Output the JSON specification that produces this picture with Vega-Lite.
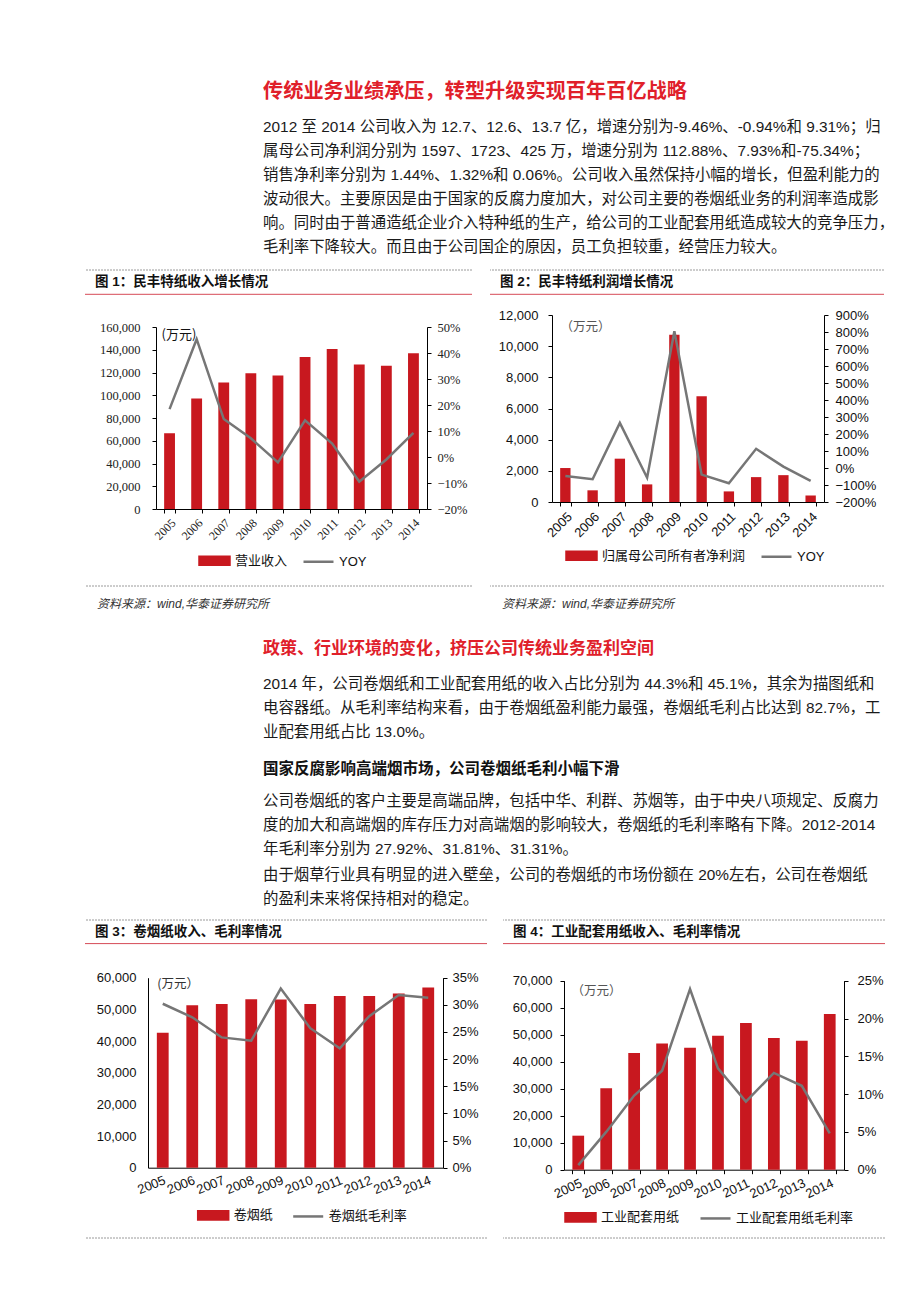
{
"$schema": "https://vega.github.io/schema/vega-lite/v6.json",
"background": "white",
"padding": 0,
"config": {"view": {"stroke": null}, "axis": {"grid": false}},
"spacing": 0,
"bounds": "full",
"resolve": {"scale": {"color": "independent"}, "legend": {"color": "independent"}},
"vconcat": [
 {"width": 1, "height": 81.5, "data": {"values": []}, "mark": "point"},
 {"hconcat": [
   {"width": 263, "height": 37.35, "data": {"values": []}, "mark": "point"},
   {"width": 622, "height": 37.35, "data": {"values": [{"t": "传统业务业绩承压，转型升级实现百年百亿战略"}]},
    "mark": {"type": "text", "align": "left", "baseline": "top", "font": "Noto Sans CJK SC", "fontSize": 20.2, "fontWeight": "bold", "color": "#e0202a"},
    "encoding": {"text": {"field": "t", "type": "nominal"}, "x": {"datum": 0, "type": "quantitative", "scale": {"domain": [0, 1]}, "axis": null}, "y": {"datum": 1, "type": "quantitative", "scale": {"domain": [0, 1]}, "axis": null}}}
 ], "spacing": 0, "bounds": "flush"},
 {"hconcat": [
   {"width": 263, "height": 148.85, "data": {"values": []}, "mark": "point"},
   {"width": 622, "height": 148.85, "data": {"values": [{"t": "2012 至 2014 公司收入为 12.7、12.6、13.7 亿，增速分别为-9.46%、-0.94%和 9.31%；归\n属母公司净利润分别为 1597、1723、425 万，增速分别为 112.88%、7.93%和-75.34%；\n销售净利率分别为 1.44%、1.32%和 0.06%。公司收入虽然保持小幅的增长，但盈利能力的\n波动很大。主要原因是由于国家的反腐力度加大，对公司主要的卷烟纸业务的利润率造成影\n响。同时由于普通造纸企业介入特种纸的生产，给公司的工业配套用纸造成较大的竞争压力，\n毛利率下降较大。而且由于公司国企的原因，员工负担较重，经营压力较大。"}]},
    "mark": {"type": "text", "align": "left", "baseline": "top", "lineBreak": "\n", "lineHeight": 24, "font": "Liberation Sans, Noto Sans CJK SC", "fontSize": 15.4, "color": "#1a1a1a"},
    "encoding": {"text": {"field": "t", "type": "nominal"}, "x": {"datum": 0, "type": "quantitative", "scale": {"domain": [0, 1]}, "axis": null}, "y": {"datum": 1, "type": "quantitative", "scale": {"domain": [0, 1]}, "axis": null}}}
 ], "spacing": 0, "bounds": "flush"},
 {"hconcat": [
   {"width": 85, "height": 24.3, "data": {"values": []}, "mark": "point"},
   {"width": 387, "height": 24.3, "data": {"values": [{"t": "图 1：民丰特纸收入增长情况"}]},
    "layer": [
     {"mark": {"type": "rule", "color": "#9a9a9a", "strokeWidth": 1, "strokeDash": [2, 1]}, "encoding": {"y": {"datum": 1, "type": "quantitative", "scale": {"domain": [0, 1]}, "axis": null}}},
     {"mark": {"type": "rule", "color": "#d64a57", "strokeWidth": 1}, "encoding": {"y": {"datum": 0, "type": "quantitative"}}},
     {"mark": {"type": "text", "align": "left", "baseline": "middle", "dx": 10, "font": "Liberation Sans, Noto Sans CJK SC", "fontSize": 13.5, "fontWeight": "bold", "color": "#111"},
      "encoding": {"text": {"field": "t", "type": "nominal"}, "x": {"datum": 0, "type": "quantitative", "scale": {"domain": [0, 1]}, "axis": null}, "y": {"datum": 0.5, "type": "quantitative"}}}
    ]},
   {"width": 18, "height": 24.3, "data": {"values": []}, "mark": "point"},
   {"width": 394, "height": 24.3, "data": {"values": [{"t": "图 2：民丰特纸利润增长情况"}]},
    "layer": [
     {"mark": {"type": "rule", "color": "#9a9a9a", "strokeWidth": 1, "strokeDash": [2, 1]}, "encoding": {"y": {"datum": 1, "type": "quantitative", "scale": {"domain": [0, 1]}, "axis": null}}},
     {"mark": {"type": "rule", "color": "#d64a57", "strokeWidth": 1}, "encoding": {"y": {"datum": 0, "type": "quantitative"}}},
     {"mark": {"type": "text", "align": "left", "baseline": "middle", "dx": 10, "font": "Liberation Sans, Noto Sans CJK SC", "fontSize": 13.5, "fontWeight": "bold", "color": "#111"},
      "encoding": {"text": {"field": "t", "type": "nominal"}, "x": {"datum": 0, "type": "quantitative", "scale": {"domain": [0, 1]}, "axis": null}, "y": {"datum": 0.5, "type": "quantitative"}}}
    ]}
 ], "spacing": 0, "bounds": "flush"},
 {"hconcat": [
   {"width": 156, "height": 290, "data": {"values": []}, "mark": "point"},
   {"width": 271, "height": 214,
    "data": {"values": [
      {"year": "2005", "rev": 66600, "yoy": 0.184},
      {"year": "2006", "rev": 97200, "yoy": 0.453},
      {"year": "2007", "rev": 111200, "yoy": 0.146},
      {"year": "2008", "rev": 119400, "yoy": 0.072},
      {"year": "2009", "rev": 117400, "yoy": -0.021},
      {"year": "2010", "rev": 133700, "yoy": 0.141},
      {"year": "2011", "rev": 140700, "yoy": 0.052},
      {"year": "2012", "rev": 127000, "yoy": -0.0946},
      {"year": "2013", "rev": 126000, "yoy": -0.0094},
      {"year": "2014", "rev": 137000, "yoy": 0.0931}
    ]},
    "encoding": {"x": {"field": "year", "type": "ordinal", "scale": {"paddingInner": 0.6, "paddingOuter": 0.3},
      "axis": {"title": null, "labelAngle": -45, "tickBand": "extent", "labelFont": "Liberation Serif", "labelFontSize": 12, "labelColor": "#222", "domainColor": "#000", "tickColor": "#000", "tickSize": 4, "labelPadding": 4, "labelOverlap": false}}},
    "layer": [
     {"mark": {"type": "bar"},
      "encoding": {
        "y": {"field": "rev", "type": "quantitative", "scale": {"domain": [0, 160000], "nice": false, "rangeMax": 32},
          "axis": {"orient": "left", "values": [0, 20000, 40000, 60000, 80000, 100000, 120000, 140000, 160000], "format": ",.0f", "title": "(万元)", "titleAngle": 0, "titleX": 5, "titleY": 39, "titleAlign": "left", "titleBaseline": "middle", "titleFont": "Noto Sans CJK SC", "titleFontSize": 13, "titleFontWeight": "normal", "titleColor": "#111", "labelFont": "Liberation Serif", "labelFontSize": 12.5, "labelColor": "#222", "domainColor": "#000", "tickColor": "#000", "tickSize": 4, "labelPadding": 12}},
        "color": {"datum": "营业收入", "type": "nominal", "scale": {"domain": ["营业收入", "YOY"], "range": ["#c8181f", "#767676"]},
          "legend": {"orient": "none", "legendX": 42, "legendY": 249, "direction": "horizontal", "title": null, "padding": 0, "labelFont": "Liberation Sans, Noto Sans CJK SC", "labelFontSize": 13, "labelColor": "#111", "labelOffset": 4, "columnPadding": 10, "symbolSize": 900, "symbolType": "M-1,-0.27H1V0.27H-1Z", "symbolStrokeWidth": 2.5,
            "encode": {"symbols": {"update": {
              "shape": {"signal": "datum.value === 'YOY' ? 'M-1,0H1' : 'M-1,-0.27H1V0.27H-1Z'"},
              "fill": {"signal": "datum.value === 'YOY' ? 'transparent' : '#c8181f'"},
              "stroke": {"signal": "datum.value === 'YOY' ? '#767676' : 'transparent'"}}}}}}}},
     {"mark": {"type": "line", "strokeWidth": 2.5},
      "encoding": {
        "y": {"field": "yoy", "type": "quantitative", "scale": {"domain": [-0.2, 0.5], "nice": false, "zero": false, "rangeMax": 32},
          "axis": {"orient": "right", "values": [-0.2, -0.1, 0, 0.1, 0.2, 0.3, 0.4, 0.5], "format": ".0%", "title": null, "labelFont": "Liberation Serif", "labelFontSize": 12.5, "labelColor": "#222", "domainColor": "#000", "tickColor": "#000", "tickSize": 4, "labelPadding": 6}},
        "color": {"datum": "YOY", "type": "nominal"}}}
    ],
    "resolve": {"scale": {"y": "independent"}}},
   {"width": 125, "height": 1, "data": {"values": []}, "mark": "point"},
   {"width": 272, "height": 207,
    "data": {"values": [
      {"year": "2005", "profit": 2180, "yoy": -0.47},
      {"year": "2006", "profit": 750, "yoy": -0.66},
      {"year": "2007", "profit": 2780, "yoy": 2.65},
      {"year": "2008", "profit": 1130, "yoy": -0.57},
      {"year": "2009", "profit": 10740, "yoy": 8.05},
      {"year": "2010", "profit": 6780, "yoy": -0.39},
      {"year": "2011", "profit": 680, "yoy": -0.9},
      {"year": "2012", "profit": 1597, "yoy": 1.1288},
      {"year": "2013", "profit": 1723, "yoy": 0.0793},
      {"year": "2014", "profit": 425, "yoy": -0.7534}
    ]},
    "encoding": {"x": {"field": "year", "type": "ordinal", "scale": {"paddingInner": 0.62, "paddingOuter": 0.3},
      "axis": {"title": null, "labelAngle": -45, "tickBand": "extent", "labelFont": "Liberation Sans", "labelFontSize": 13, "labelColor": "#111", "domainColor": "#000", "tickColor": "#000", "tickSize": 4, "labelPadding": 4, "labelOverlap": false}}},
    "layer": [
     {"mark": {"type": "bar"},
      "encoding": {
        "y": {"field": "profit", "type": "quantitative", "scale": {"domain": [0, 12000], "nice": false, "rangeMax": 20},
          "axis": {"orient": "left", "values": [0, 2000, 4000, 6000, 8000, 10000, 12000], "format": ",.0f", "title": "（万元）", "titleAngle": 0, "titleX": 8, "titleY": 31, "titleAlign": "left", "titleBaseline": "middle", "titleFont": "Noto Sans CJK SC", "titleFontSize": 12.5, "titleFontWeight": "normal", "titleColor": "#555", "labelFont": "Liberation Sans", "labelFontSize": 13, "labelColor": "#111", "domainColor": "#000", "tickColor": "#000", "tickSize": 4, "labelPadding": 10}},
        "color": {"datum": "归属母公司所有者净利润", "type": "nominal", "scale": {"domain": ["归属母公司所有者净利润", "YOY"], "range": ["#c8181f", "#767676"]},
          "legend": {"orient": "none", "legendX": 13, "legendY": 244, "direction": "horizontal", "title": null, "padding": 0, "labelFont": "Liberation Sans, Noto Sans CJK SC", "labelFontSize": 13, "labelColor": "#111", "labelOffset": 4, "columnPadding": 10, "symbolSize": 900, "symbolType": "M-1,-0.27H1V0.27H-1Z", "symbolStrokeWidth": 2.5, "labelLimit": 300,
            "encode": {"symbols": {"update": {
              "shape": {"signal": "datum.value === 'YOY' ? 'M-1,0H1' : 'M-1,-0.27H1V0.27H-1Z'"},
              "fill": {"signal": "datum.value === 'YOY' ? 'transparent' : '#c8181f'"},
              "stroke": {"signal": "datum.value === 'YOY' ? '#767676' : 'transparent'"}}}}}}}},
     {"mark": {"type": "line", "strokeWidth": 2.5},
      "encoding": {
        "y": {"field": "yoy", "type": "quantitative", "scale": {"domain": [-2, 9], "nice": false, "zero": false, "rangeMax": 20},
          "axis": {"orient": "right", "values": [-2, -1, 0, 1, 2, 3, 4, 5, 6, 7, 8, 9], "format": ".0%", "title": null, "labelFont": "Liberation Sans", "labelFontSize": 13, "labelColor": "#111", "domainColor": "#000", "tickColor": "#000", "tickSize": 4, "labelPadding": 7}},
        "color": {"datum": "YOY", "type": "nominal"}}}
    ],
    "resolve": {"scale": {"y": "independent"}}}
 ], "spacing": 0, "bounds": "flush", "resolve": {"scale": {"color": "independent"}, "legend": {"color": "independent"}}},
 {"hconcat": [
   {"width": 85, "height": 35.5, "data": {"values": []}, "mark": "point"},
   {"width": 387, "height": 35.5, "data": {"values": [{"t": "资料来源：wind,华泰证券研究所"}]},
    "layer": [
     {"mark": {"type": "rule", "color": "#9a9a9a", "strokeWidth": 1, "strokeDash": [2, 1]}, "encoding": {"y": {"datum": 1, "type": "quantitative", "scale": {"domain": [0, 1]}, "axis": null}}},
     {"mark": {"type": "text", "align": "left", "baseline": "middle", "dx": 12, "font": "Liberation Sans, Noto Sans CJK SC", "fontSize": 12, "fontStyle": "italic", "color": "#333"},
      "encoding": {"text": {"field": "t", "type": "nominal"}, "x": {"datum": 0, "type": "quantitative", "scale": {"domain": [0, 1]}, "axis": null}, "y": {"datum": 0.5, "type": "quantitative"}}}
    ]},
   {"width": 18, "height": 35.5, "data": {"values": []}, "mark": "point"},
   {"width": 394, "height": 35.5, "data": {"values": [{"t": "资料来源：wind,华泰证券研究所"}]},
    "layer": [
     {"mark": {"type": "rule", "color": "#9a9a9a", "strokeWidth": 1, "strokeDash": [2, 1]}, "encoding": {"y": {"datum": 1, "type": "quantitative", "scale": {"domain": [0, 1]}, "axis": null}}},
     {"mark": {"type": "text", "align": "left", "baseline": "middle", "dx": 12, "font": "Liberation Sans, Noto Sans CJK SC", "fontSize": 12, "fontStyle": "italic", "color": "#333"},
      "encoding": {"text": {"field": "t", "type": "nominal"}, "x": {"datum": 0, "type": "quantitative", "scale": {"domain": [0, 1]}, "axis": null}, "y": {"datum": 0.5, "type": "quantitative"}}}
    ]}
 ], "spacing": 0, "bounds": "flush"},
 {"width": 1, "height": 18, "data": {"values": []}, "mark": "point"},
 {"hconcat": [
   {"width": 263, "height": 35.8, "data": {"values": []}, "mark": "point"},
   {"width": 622, "height": 35.8, "data": {"values": [{"t": "政策、行业环境的变化，挤压公司传统业务盈利空间"}]},
    "mark": {"type": "text", "align": "left", "baseline": "top", "font": "Noto Sans CJK SC", "fontSize": 17, "fontWeight": "bold", "color": "#e0202a"},
    "encoding": {"text": {"field": "t", "type": "nominal"}, "x": {"datum": 0, "type": "quantitative", "scale": {"domain": [0, 1]}, "axis": null}, "y": {"datum": 1, "type": "quantitative", "scale": {"domain": [0, 1]}, "axis": null}}}
 ], "spacing": 0, "bounds": "flush"},
 {"hconcat": [
   {"width": 263, "height": 84.8, "data": {"values": []}, "mark": "point"},
   {"width": 622, "height": 84.8, "data": {"values": [{"t": "2014 年，公司卷烟纸和工业配套用纸的收入占比分别为 44.3%和 45.1%，其余为描图纸和\n电容器纸。从毛利率结构来看，由于卷烟纸盈利能力最强，卷烟纸毛利占比达到 82.7%，工\n业配套用纸占比 13.0%。"}]},
    "mark": {"type": "text", "align": "left", "baseline": "top", "lineBreak": "\n", "lineHeight": 24, "font": "Liberation Sans, Noto Sans CJK SC", "fontSize": 15.4, "color": "#1a1a1a"},
    "encoding": {"text": {"field": "t", "type": "nominal"}, "x": {"datum": 0, "type": "quantitative", "scale": {"domain": [0, 1]}, "axis": null}, "y": {"datum": 1, "type": "quantitative", "scale": {"domain": [0, 1]}, "axis": null}}}
 ], "spacing": 0, "bounds": "flush"},
 {"hconcat": [
   {"width": 263, "height": 31.2, "data": {"values": []}, "mark": "point"},
   {"width": 622, "height": 31.2, "data": {"values": [{"t": "国家反腐影响高端烟市场，公司卷烟纸毛利小幅下滑"}]},
    "mark": {"type": "text", "align": "left", "baseline": "top", "font": "Noto Sans CJK SC", "fontSize": 15.5, "fontWeight": "bold", "color": "#111"},
    "encoding": {"text": {"field": "t", "type": "nominal"}, "x": {"datum": 0, "type": "quantitative", "scale": {"domain": [0, 1]}, "axis": null}, "y": {"datum": 1, "type": "quantitative", "scale": {"domain": [0, 1]}, "axis": null}}}
 ], "spacing": 0, "bounds": "flush"},
 {"hconcat": [
   {"width": 263, "height": 74, "data": {"values": []}, "mark": "point"},
   {"width": 622, "height": 74, "data": {"values": [{"t": "公司卷烟纸的客户主要是高端品牌，包括中华、利群、苏烟等，由于中央八项规定、反腐力\n度的加大和高端烟的库存压力对高端烟的影响较大，卷烟纸的毛利率略有下降。2012-2014\n年毛利率分别为 27.92%、31.81%、31.31%。"}]},
    "mark": {"type": "text", "align": "left", "baseline": "top", "lineBreak": "\n", "lineHeight": 24, "font": "Liberation Sans, Noto Sans CJK SC", "fontSize": 15.4, "color": "#1a1a1a"},
    "encoding": {"text": {"field": "t", "type": "nominal"}, "x": {"datum": 0, "type": "quantitative", "scale": {"domain": [0, 1]}, "axis": null}, "y": {"datum": 1, "type": "quantitative", "scale": {"domain": [0, 1]}, "axis": null}}}
 ], "spacing": 0, "bounds": "flush"},
 {"hconcat": [
   {"width": 263, "height": 50.9, "data": {"values": []}, "mark": "point"},
   {"width": 622, "height": 50.9, "data": {"values": [{"t": "由于烟草行业具有明显的进入壁垒，公司的卷烟纸的市场份额在 20%左右，公司在卷烟纸\n的盈利未来将保持相对的稳定。"}]},
    "mark": {"type": "text", "align": "left", "baseline": "top", "lineBreak": "\n", "lineHeight": 24, "font": "Liberation Sans, Noto Sans CJK SC", "fontSize": 15.4, "color": "#1a1a1a"},
    "encoding": {"text": {"field": "t", "type": "nominal"}, "x": {"datum": 0, "type": "quantitative", "scale": {"domain": [0, 1]}, "axis": null}, "y": {"datum": 1, "type": "quantitative", "scale": {"domain": [0, 1]}, "axis": null}}}
 ], "spacing": 0, "bounds": "flush"},
 {"hconcat": [
   {"width": 85, "height": 23.6, "data": {"values": []}, "mark": "point"},
   {"width": 402, "height": 23.6, "data": {"values": [{"t": "图 3：卷烟纸收入、毛利率情况"}]},
    "layer": [
     {"mark": {"type": "rule", "color": "#9a9a9a", "strokeWidth": 1, "strokeDash": [2, 1]}, "encoding": {"y": {"datum": 1, "type": "quantitative", "scale": {"domain": [0, 1]}, "axis": null}}},
     {"mark": {"type": "rule", "color": "#d64a57", "strokeWidth": 1}, "encoding": {"y": {"datum": 0, "type": "quantitative"}}},
     {"mark": {"type": "text", "align": "left", "baseline": "middle", "dx": 10, "font": "Liberation Sans, Noto Sans CJK SC", "fontSize": 13.5, "fontWeight": "bold", "color": "#111"},
      "encoding": {"text": {"field": "t", "type": "nominal"}, "x": {"datum": 0, "type": "quantitative", "scale": {"domain": [0, 1]}, "axis": null}, "y": {"datum": 0.5, "type": "quantitative"}}}
    ]},
   {"width": 16, "height": 23.6, "data": {"values": []}, "mark": "point"},
   {"width": 382, "height": 23.6, "data": {"values": [{"t": "图 4：工业配套用纸收入、毛利率情况"}]},
    "layer": [
     {"mark": {"type": "rule", "color": "#9a9a9a", "strokeWidth": 1, "strokeDash": [2, 1]}, "encoding": {"y": {"datum": 1, "type": "quantitative", "scale": {"domain": [0, 1]}, "axis": null}}},
     {"mark": {"type": "rule", "color": "#d64a57", "strokeWidth": 1}, "encoding": {"y": {"datum": 0, "type": "quantitative"}}},
     {"mark": {"type": "text", "align": "left", "baseline": "middle", "dx": 10, "font": "Liberation Sans, Noto Sans CJK SC", "fontSize": 13.5, "fontWeight": "bold", "color": "#111"},
      "encoding": {"text": {"field": "t", "type": "nominal"}, "x": {"datum": 0, "type": "quantitative", "scale": {"domain": [0, 1]}, "axis": null}, "y": {"datum": 0.5, "type": "quantitative"}}}
    ]}
 ], "spacing": 0, "bounds": "flush"},
 {"hconcat": [
   {"width": 148, "height": 291.4, "data": {"values": []}, "mark": "point"},
   {"width": 295, "height": 222.7,
    "data": {"values": [
      {"year": "2005", "rev": 42600, "gm": 0.302},
      {"year": "2006", "rev": 51300, "gm": 0.277},
      {"year": "2007", "rev": 51700, "gm": 0.24},
      {"year": "2008", "rev": 53200, "gm": 0.234},
      {"year": "2009", "rev": 53100, "gm": 0.33},
      {"year": "2010", "rev": 51700, "gm": 0.257},
      {"year": "2011", "rev": 54200, "gm": 0.22},
      {"year": "2012", "rev": 54200, "gm": 0.2792},
      {"year": "2013", "rev": 55000, "gm": 0.3181},
      {"year": "2014", "rev": 56900, "gm": 0.3131}
    ]},
    "encoding": {"x": {"field": "year", "type": "ordinal", "scale": {"paddingInner": 0.6, "paddingOuter": 0.3},
      "axis": {"title": null, "labelAngle": -22, "ticks": false, "labelFont": "Liberation Sans", "labelFontSize": 13, "labelColor": "#111", "domainColor": "#000", "labelPadding": 6, "labelOverlap": false}}},
    "layer": [
     {"mark": {"type": "bar"},
      "encoding": {
        "y": {"field": "rev", "type": "quantitative", "scale": {"domain": [0, 60000], "nice": false, "rangeMax": 32.7},
          "axis": {"orient": "left", "values": [0, 10000, 20000, 30000, 40000, 50000, 60000], "format": ",.0f", "title": "(万元）", "titleAngle": 0, "titleX": 8.7, "titleY": 38.7, "titleAlign": "left", "titleBaseline": "middle", "titleFont": "Noto Sans CJK SC", "titleFontSize": 12.5, "titleFontWeight": "normal", "titleColor": "#333", "labelFont": "Liberation Sans", "labelFontSize": 13, "labelColor": "#111", "domainColor": "#000", "ticks": false, "labelPadding": 12}},
        "color": {"datum": "卷烟纸", "type": "nominal", "scale": {"domain": ["卷烟纸", "卷烟纸毛利率"], "range": ["#c8181f", "#767676"]},
          "legend": {"orient": "none", "legendX": 48.7, "legendY": 253.7, "direction": "horizontal", "title": null, "padding": 0, "labelFont": "Liberation Sans, Noto Sans CJK SC", "labelFontSize": 13, "labelColor": "#111", "labelOffset": 4, "columnPadding": 14, "symbolSize": 900, "symbolType": "M-1,-0.27H1V0.27H-1Z", "symbolStrokeWidth": 2.5,
            "encode": {"symbols": {"update": {
              "shape": {"signal": "datum.value === '卷烟纸毛利率' ? 'M-1,0H1' : 'M-1,-0.27H1V0.27H-1Z'"},
              "fill": {"signal": "datum.value === '卷烟纸毛利率' ? 'transparent' : '#c8181f'"},
              "stroke": {"signal": "datum.value === '卷烟纸毛利率' ? '#767676' : 'transparent'"}}}}}}}},
     {"mark": {"type": "line", "strokeWidth": 2.5},
      "encoding": {
        "y": {"field": "gm", "type": "quantitative", "scale": {"domain": [0, 0.35], "nice": false, "rangeMax": 32.7},
          "axis": {"orient": "right", "values": [0, 0.05, 0.1, 0.15, 0.2, 0.25, 0.3, 0.35], "format": ".0%", "title": null, "labelFont": "Liberation Sans", "labelFontSize": 13, "labelColor": "#111", "domainColor": "#000", "tickColor": "#000", "tickSize": 4, "labelPadding": 5}},
        "color": {"datum": "卷烟纸毛利率", "type": "nominal"}}}
    ],
    "resolve": {"scale": {"y": "independent"}}},
   {"width": 121, "height": 1, "data": {"values": []}, "mark": "point"},
   {"width": 280, "height": 224.7,
    "data": {"values": [
      {"year": "2005", "rev": 12600, "gm": 0.006},
      {"year": "2006", "rev": 30200, "gm": 0.05},
      {"year": "2007", "rev": 43200, "gm": 0.098},
      {"year": "2008", "rev": 46700, "gm": 0.131},
      {"year": "2009", "rev": 45200, "gm": 0.239},
      {"year": "2010", "rev": 49600, "gm": 0.134},
      {"year": "2011", "rev": 54300, "gm": 0.09},
      {"year": "2012", "rev": 48800, "gm": 0.128},
      {"year": "2013", "rev": 47800, "gm": 0.111},
      {"year": "2014", "rev": 57700, "gm": 0.048}
    ]},
    "encoding": {"x": {"field": "year", "type": "ordinal", "scale": {"paddingInner": 0.58, "paddingOuter": 0.3},
      "axis": {"title": null, "labelAngle": -25, "tickBand": "extent", "labelFont": "Liberation Sans", "labelFontSize": 13, "labelColor": "#111", "domainColor": "#000", "tickColor": "#000", "tickSize": 4, "labelPadding": 3, "labelOverlap": false}}},
    "layer": [
     {"mark": {"type": "bar"},
      "encoding": {
        "y": {"field": "rev", "type": "quantitative", "scale": {"domain": [0, 70000], "nice": false, "rangeMax": 35.7},
          "axis": {"orient": "left", "values": [0, 10000, 20000, 30000, 40000, 50000, 60000, 70000], "format": ",.0f", "title": "（万元）", "titleAngle": 0, "titleX": 7, "titleY": 45.7, "titleAlign": "left", "titleBaseline": "middle", "titleFont": "Noto Sans CJK SC", "titleFontSize": 12.5, "titleFontWeight": "normal", "titleColor": "#555", "labelFont": "Liberation Sans", "labelFontSize": 13, "labelColor": "#111", "domainColor": "#000", "tickColor": "#000", "tickSize": 4, "labelPadding": 8}},
        "color": {"datum": "工业配套用纸", "type": "nominal", "scale": {"domain": ["工业配套用纸", "工业配套用纸毛利率"], "range": ["#c8181f", "#767676"]},
          "legend": {"orient": "none", "legendX": 0, "legendY": 255.7, "direction": "horizontal", "title": null, "padding": 0, "labelFont": "Liberation Sans, Noto Sans CJK SC", "labelFontSize": 13, "labelColor": "#111", "labelOffset": 4, "columnPadding": 15, "symbolSize": 900, "symbolType": "M-1,-0.27H1V0.27H-1Z", "symbolStrokeWidth": 2.5,
            "encode": {"symbols": {"update": {
              "shape": {"signal": "datum.value === '工业配套用纸毛利率' ? 'M-1,0H1' : 'M-1,-0.27H1V0.27H-1Z'"},
              "fill": {"signal": "datum.value === '工业配套用纸毛利率' ? 'transparent' : '#c8181f'"},
              "stroke": {"signal": "datum.value === '工业配套用纸毛利率' ? '#767676' : 'transparent'"}}}}}}}},
     {"mark": {"type": "line", "strokeWidth": 2.5},
      "encoding": {
        "y": {"field": "gm", "type": "quantitative", "scale": {"domain": [0, 0.25], "nice": false, "rangeMax": 35.7},
          "axis": {"orient": "right", "values": [0, 0.05, 0.1, 0.15, 0.2, 0.25], "format": ".0%", "title": null, "labelFont": "Liberation Sans", "labelFontSize": 13, "labelColor": "#111", "domainColor": "#000", "tickColor": "#000", "tickSize": 4, "labelPadding": 9}},
        "color": {"datum": "工业配套用纸毛利率", "type": "nominal"}}}
    ],
    "resolve": {"scale": {"y": "independent"}}}
 ], "spacing": 0, "bounds": "flush", "resolve": {"scale": {"color": "independent"}, "legend": {"color": "independent"}}},
 {"hconcat": [
   {"width": 85, "height": 1, "data": {"values": []}, "mark": "point"},
   {"width": 402, "height": 1, "data": {"values": [{}]},
    "mark": {"type": "rule", "color": "#9a9a9a", "strokeWidth": 1, "strokeDash": [2, 1]},
    "encoding": {"y": {"datum": 1, "type": "quantitative", "scale": {"domain": [0, 1]}, "axis": null}}},
   {"width": 16, "height": 1, "data": {"values": []}, "mark": "point"},
   {"width": 382, "height": 1, "data": {"values": [{}]},
    "mark": {"type": "rule", "color": "#9a9a9a", "strokeWidth": 1, "strokeDash": [2, 1]},
    "encoding": {"y": {"datum": 1, "type": "quantitative", "scale": {"domain": [0, 1]}, "axis": null}}}
 ], "spacing": 0, "bounds": "flush"}
]
}
